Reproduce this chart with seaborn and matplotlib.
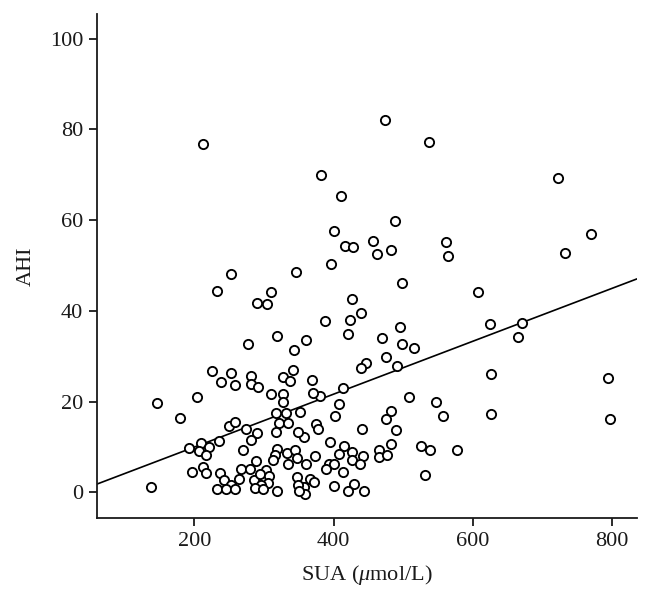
import matplotlib
matplotlib.use("Agg")
import matplotlib.pyplot as plt
import seaborn as sns
import pandas as pd
import numpy as np

# Serum uric acid (umol/L) and AHI values
sua = [
    213, 474, 537, 382, 411, 488, 400, 417, 428, 456, 462, 483, 561, 565, 396,
    346, 252, 233, 310, 290, 304, 499, 427, 439, 424, 388, 277, 318, 343, 361,
    421, 469, 495, 498, 516, 476, 446, 439, 491,
    722, 770, 733, 607, 625, 671, 665, 627, 795, 558, 627, 797, 578,
    413, 381, 408, 402, 441, 509, 547, 483, 476, 490, 395, 415, 408, 427, 442,
    427, 438, 394, 401, 389, 413, 400, 429, 421, 444, 466, 465, 477, 483, 525,
    539, 531, 369, 370, 357, 375, 378, 373, 360, 366, 372, 357, 359,
    225, 252, 281, 327, 342, 238, 258, 281, 291, 337, 204, 310, 328, 328, 317,
    331, 352, 250, 258, 274, 290, 281, 321, 334, 317, 349, 192, 210, 221, 207,
    217, 236, 270, 319, 316, 333, 344, 348, 335, 313, 197, 213, 217, 237, 267,
    288, 280, 303, 285, 242, 264, 294, 307, 306, 295, 252, 233, 245, 259, 287,
    299, 319, 348, 349, 351,
    146, 179, 137,
]
ahi = [
    76.8, 82.1, 77.3, 70.0, 65.3, 59.8, 57.5, 54.3, 54.1, 55.3, 52.6, 53.4, 55.2, 52.0, 50.3,
    48.6, 48.1, 44.4, 44.2, 41.7, 41.4, 46.1, 42.5, 39.5, 38.0, 37.8, 32.6, 34.4, 31.4, 33.5,
    34.8, 34.1, 36.4, 32.7, 31.9, 29.9, 28.6, 27.4, 27.8,
    69.4, 57.0, 52.8, 44.2, 37.1, 37.4, 34.2, 26.1, 25.1, 16.8, 17.3, 16.1, 9.3,
    22.9, 21.3, 19.4, 16.7, 14.0, 21.0, 19.8, 17.9, 16.2, 13.7, 11.1, 10.2, 8.4, 8.9, 8.0,
    7.1, 6.3, 6.2, 6.2, 5.1, 4.4, 1.3, 1.8, 0.3, 0.3, 9.4, 7.8, 8.1, 10.7, 10.2,
    9.3, 3.7, 24.7, 21.9, 12.1, 15.1, 13.9, 7.9, 6.3, 2.9, 2.3, 1.2, -0.3,
    26.7, 26.4, 25.7, 25.5, 26.9, 24.3, 23.6, 23.8, 23.1, 24.5, 20.9, 21.6, 21.6, 19.8, 17.5,
    17.4, 17.8, 14.6, 15.5, 13.9, 13.0, 11.6, 15.3, 15.3, 13.2, 13.2, 9.8, 10.9, 9.9, 9.0,
    8.2, 11.3, 9.4, 9.5, 8.2, 8.7, 9.4, 7.5, 6.3, 7.0, 4.5, 5.6, 4.3, 4.3, 5.1,
    6.9, 5.1, 4.8, 2.6, 2.8, 2.9, 4.0, 3.5, 2.1, 1.7, 1.7, 0.6, 0.6, 0.7, 1.0,
    0.7, 0.3, 3.4, 1.7, 0.3,
    19.6, 16.4, 1.2,
]
# Linear fit shown in the reference
fit_intercept = -1.7
fit_slope = 0.0583

x_ticks = [200, 400, 600, 800]
y_ticks = [0, 20, 40, 60, 80, 100]

df = pd.DataFrame({"SUA": sua, "AHI": ahi})

sns.set_theme(style="ticks")
plt.rcParams["font.family"] = ["Liberation Serif", "DejaVu Serif"]
plt.rcParams["mathtext.fontset"] = "custom"
plt.rcParams["mathtext.rm"] = "Liberation Serif"
plt.rcParams["mathtext.it"] = "Liberation Serif:italic"

fig = plt.figure(figsize=(6.52, 6.01), dpi=100)
ax = fig.add_axes([0.1488, 0.138, 0.828, 0.839])
ax.set_xlim(60, 836)
ax.set_ylim(-5.7, 105.5)

# fitted line across the full x range of the axes
xl = np.array(ax.get_xlim())
fit_df = pd.DataFrame({"SUA": xl, "AHI": fit_intercept + fit_slope * xl})
sns.lineplot(data=fit_df, x="SUA", y="AHI", ax=ax, color="black",
             linewidth=1.2, zorder=2)

sns.scatterplot(data=df, x="SUA", y="AHI", ax=ax, s=44, facecolor="white",
                edgecolor="black", linewidth=1.35, zorder=3)

ax.set_xlim(60, 836)
ax.set_ylim(-5.7, 105.5)
ax.set_xticks(x_ticks)
ax.set_yticks(y_ticks)
sns.despine(ax=ax)
for s in ["left", "bottom"]:
    ax.spines[s].set_linewidth(1.3)
    ax.spines[s].set_color("#1a1a1a")
ax.tick_params(axis="both", direction="out", length=6, width=1.3,
               color="#1a1a1a", labelsize=16, labelcolor="#1a1a1a", pad=4)
ax.set_xlabel("SUA ($\\mu$mol/L)", fontsize=16, color="#1a1a1a", labelpad=9)
ax.set_ylabel("AHI", fontsize=16, color="#1a1a1a", labelpad=10)

fig.savefig("out.png", dpi=100)
